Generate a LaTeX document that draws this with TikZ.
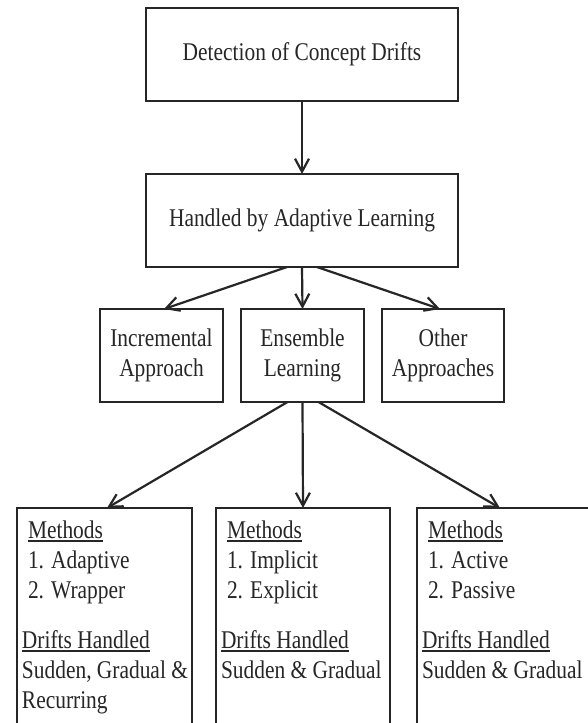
\documentclass[tikz,border=0pt]{standalone}
\usepackage{fontspec}
\setmainfont{Liberation Serif}[FakeStretch=0.84]
\usepackage{xcolor}
\usetikzlibrary{arrows.meta,positioning}
\definecolor{Ink}{HTML}{262626}
\newcommand{\undl}[1]{\setbox0\hbox{#1}\rlap{\rule[-3.5pt]{\wd0}{1.4pt}}\box0}

\tikzset{
  box/.style={draw=Ink,line width=2.8pt,minimum height=93pt,inner sep=0pt,outer sep=0pt,align=center},
  driftbox/.style={draw=Ink,line width=2.8pt,anchor=north west,minimum height=260pt,inner sep=0pt,outer sep=0pt},
  note/.style={anchor=north west,inner sep=0pt,outer sep=0pt,align=left,text=Ink},
  link/.style={draw=Ink,line width=2.2pt,-{Straight Barb[length=13pt,width=14pt,line width=2.2pt]}}
}

\begin{document}
\begin{tikzpicture}[x=1pt,y=-1pt,font=\fontsize{25.5}{30}\selectfont,text=Ink]
  \clip (0,0) rectangle (588,723);
  \fill[white] (0,0) rectangle (588,723);
  \node[box,minimum width=312pt] (detect) at (302,54.5) {Detection of Concept Drifts};
  \node[box,minimum width=312pt] (hand) at (302,220.5) {Handled by Adaptive Learning};
  \node[box,minimum width=123pt] (incr) at (161.5,355.5) {Incremental\\Approach};
  \node[box,minimum width=123pt] (ens) at (302.5,355.5) {Ensemble\\Learning};
  \node[box,minimum width=122pt] (other) at (443,355.5) {Other\\Approaches};
  \node[driftbox,minimum width=175pt] (adapt) at (17,508) {};
  \node[driftbox,minimum width=174pt] (ensm) at (216,508) {};
  \node[driftbox,minimum width=185pt] (actv) at (417,508) {};
  \node[note] (adapttxt) at ([xshift=5pt,yshift=-12.5pt]adapt.north west)
    {\hspace*{6pt}\undl{Methods}\\ \hspace*{6pt}1. Adaptive\\ \hspace*{6pt}2. Wrapper\\[20pt]
     \undl{Drifts Handled}\\ Sudden, Gradual \&\\ Recurring};
  \node[note] (ensmtxt) at ([xshift=5pt,yshift=-12.5pt]ensm.north west)
    {\hspace*{6pt}\undl{Methods}\\ \hspace*{6pt}1. Implicit\\ \hspace*{6pt}2. Explicit\\[20pt]
     \undl{Drifts Handled}\\ Sudden \& Gradual};
  \node[note] (actvtxt) at ([xshift=5pt,yshift=-12.5pt]actv.north west)
    {\hspace*{6pt}\undl{Methods}\\ \hspace*{6pt}1. Active\\ \hspace*{6pt}2. Passive\\[20pt]
     \undl{Drifts Handled}\\ Sudden \& Gradual};
  \draw[link] (detect.south) -- (hand.north);
  \draw[link] ([xshift=-15pt]hand.south) -- ([xshift=2.5pt]incr.north);
  \draw[link] (hand.south) -- (ens.north);
  \draw[link] ([xshift=15pt]hand.south) -- ([xshift=-3pt]other.north);
  \draw[link] ([xshift=-15pt]ens.south) -- ([xshift=2.5pt]adapt.north);
  \draw[link] (ens.south) -- (ensm.north);
  \draw[link] ([xshift=16pt]ens.south) -- ([xshift=-9.5pt]actv.north);
\end{tikzpicture}
\end{document}
